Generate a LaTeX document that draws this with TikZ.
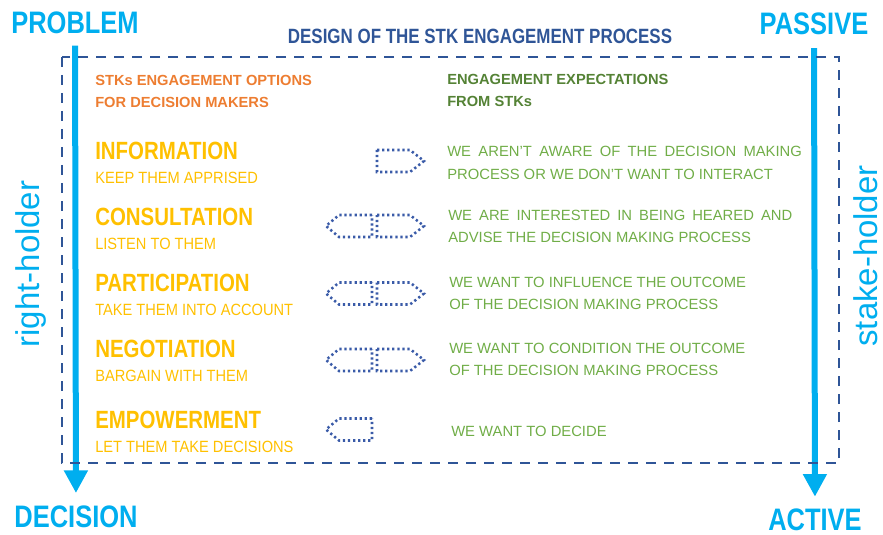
\documentclass[tikz,border=0pt]{standalone}
\usepackage{fontspec}
\setmainfont{Liberation Sans}
\newfontfamily\narrowfont[FakeStretch=0.82]{Liberation Sans}
\newfontfamily\semifont[FakeStretch=0.9]{Liberation Sans}
\usetikzlibrary{positioning, arrows.meta}

\definecolor{skyblue}{HTML}{00AEEF}
\definecolor{navy}{HTML}{2F5597}
\definecolor{dotblue}{HTML}{3A5BA8}
\definecolor{optorange}{HTML}{ED7D31}
\definecolor{optyellow}{HTML}{FFC000}
\definecolor{expdark}{HTML}{548235}
\definecolor{explight}{HTML}{70AD47}

\begin{document}
\begin{tikzpicture}[
    x=0.75pt, y=-0.75pt,
    endpoint/.style={inner sep=0pt, anchor=base, text=skyblue, font=\narrowfont\bfseries\fontsize{23.3pt}{26pt}\selectfont},
    side/.style={inner sep=0pt, rotate=90, text=skyblue, font=\fontsize{24.7pt}{28pt}\selectfont},
    heading/.style={inner sep=0pt, anchor=west, align=left, font=\bfseries\fontsize{11pt}{16.3pt}\selectfont},
    opt/.style={inner sep=0pt, anchor=base west, text=optyellow, font=\narrowfont\bfseries\fontsize{18.7pt}{20pt}\selectfont},
    optsub/.style={inner sep=0pt, anchor=base west, text=optyellow, font=\semifont\fontsize{12.2pt}{14pt}\selectfont},
    expect/.style={inner sep=0pt, anchor=west, text=explight, font=\fontsize{11.1pt}{16.9pt}\selectfont},
    sig/.style={draw=dotblue, line width=1.9pt, dash pattern=on 1.7pt off 2.1pt},
    frame/.style={draw=navy, line width=1.9pt, dash pattern=on 7.5pt off 6pt},
    flow/.style={draw=skyblue, line width=4.5pt, -{Triangle[length=17pt, width=17pt]}}
]
    \useasboundingbox (0,0) rectangle (883,535);

    % Axes
    \node[endpoint] (problem) at (75,33.3) {PROBLEM};
    \node[endpoint] (decision) at (76,527) {DECISION};
    \node[endpoint] (passive) at (814,35) {PASSIVE};
    \node[endpoint] (active) at (815,530) {ACTIVE};
    \node[side] (rights) at (31,264) {right-holder};
    \node[side] (stakes) at (866,256) {stake-holder};

    \draw[flow, shorten <=8.8pt, shorten >=9pt] (problem) -- (decision);
    \draw[flow, shorten <=9.5pt, shorten >=8.5pt] (passive) -- (active);

    % Frame
    \draw[frame] (62,57) rectangle (839,463);
    \node[inner sep=0pt, anchor=base, text=navy, font=\narrowfont\bfseries\fontsize{15.5pt}{18pt}\selectfont] (title) at (480,43.3) {DESIGN OF THE STK ENGAGEMENT PROCESS};

    % Headings
    \node[heading, text=optorange] (optshead) at (95,91.3) {STKs ENGAGEMENT OPTIONS\\FOR DECISION MAKERS};
    \node[heading, text=expdark] (exphead) at (447,90.7) {ENGAGEMENT EXPECTATIONS\\FROM STKs};

    % Information
    \node[opt] (info) at (95,160) {INFORMATION};
    \node[optsub] (infosub) at (95,183.3) {KEEP THEM APPRISED};
    \draw[sig] (377,150) -- (410,150) -- (424,161) -- (410,172) -- (377,172) -- cycle;
    \node[expect, text width=266pt, align=justify] (infoexp) at (447,162.7) {WE AREN’T AWARE OF THE DECISION MAKING PROCESS OR WE DON’T WANT TO INTERACT};

    % Consultation
    \node[opt] (cons) at (95,225) {CONSULTATION};
    \node[optsub] (conssub) at (95,249) {LISTEN TO THEM};
    \draw[sig] (372,215) -- (339,215) -- (326,226) -- (339,237) -- (372,237) -- cycle;
    \draw[sig] (377,215) -- (410,215) -- (424,226) -- (410,237) -- (377,237) -- cycle;
    \node[expect, text width=258pt, align=justify] (consexp) at (448,226.5) {WE ARE INTERESTED IN BEING HEARED AND ADVISE THE DECISION MAKING PROCESS};

    % Participation
    \node[opt] (part) at (95,291.5) {PARTICIPATION};
    \node[optsub] (partsub) at (95,315.7) {TAKE THEM INTO ACCOUNT};
    \draw[sig] (372,282.5) -- (339,282.5) -- (326,293.5) -- (339,304.5) -- (372,304.5) -- cycle;
    \draw[sig] (377,282.5) -- (410,282.5) -- (424,293.5) -- (410,304.5) -- (377,304.5) -- cycle;
    \node[expect, align=left] (partexp) at (449,293.5) {WE WANT TO INFLUENCE THE OUTCOME\\OF THE DECISION MAKING PROCESS};

    % Negotiation
    \node[opt] (nego) at (95,357.5) {NEGOTIATION};
    \node[optsub] (negosub) at (95,381.7) {BARGAIN WITH THEM};
    \draw[sig] (372,349) -- (339,349) -- (326,360) -- (339,371) -- (372,371) -- cycle;
    \draw[sig] (377,349) -- (410,349) -- (424,360) -- (410,371) -- (377,371) -- cycle;
    \node[expect, align=left] (negoexp) at (449,359.5) {WE WANT TO CONDITION THE OUTCOME\\OF THE DECISION MAKING PROCESS};

    % Empowerment
    \node[opt] (empo) at (95,428.3) {EMPOWERMENT};
    \node[optsub] (emposub) at (95,452.3) {LET THEM TAKE DECISIONS};
    \draw[sig] (372,418.5) -- (339,418.5) -- (326,429.5) -- (339,440.5) -- (372,440.5) -- cycle;
    \node[expect] (empoexp) at (451,431) {WE WANT TO DECIDE};

\end{tikzpicture}
\end{document}
